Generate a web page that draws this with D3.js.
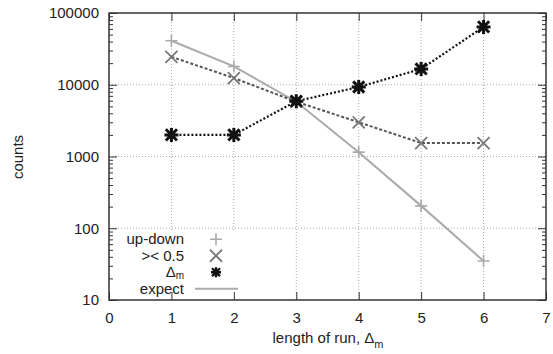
<!DOCTYPE html>
<html>
  <head>
    <meta charset="UTF-8" />
    <title>counts vs length of run</title>
    <script src="https://cdn.jsdelivr.net/npm/d3@7"></script>
    <style>
      body { margin: 0; background: #fff; }
      svg text { font-family: "Liberation Sans", Arial, sans-serif; fill: #222; }
    </style>
  </head>
  <body>
    <div class="chart"></div>
    <script>
      // data
      let runLength = [1, 2, 3, 4, 5, 6];
      let upDown = [41000, 18000, 5800, 1150, 205, 35];
      let halfCross = [24500, 12400, 5800, 3000, 1540, 1540];
      let deltaM = [2000, 2000, 5900, 9300, 16600, 64000];
      let expect = [41000, 18000, 5800, 1150, 205, 35];
      let xTicks = [0, 1, 2, 3, 4, 5, 6, 7];
      let yTicks = [10, 100, 1000, 10000, 100000];

      let width = 553;
      let height = 354;
      let margin = { top: 13, right: 7, bottom: 54, left: 109 };
      let w = width - margin.left - margin.right;
      let h = height - margin.top - margin.bottom;

      let svg = d3
        .select(".chart")
        .append("svg")
        .attr("width", width)
        .attr("height", height);

      let g = svg
        .append("g")
        .attr("transform", `translate(${margin.left},${margin.top})`);

      let x = d3.scaleLinear().domain([0, 7]).range([0, w]);
      let y = d3.scaleLog().domain([10, 100000]).range([h, 0]);

      // grid
      let gridColor = "#aaa";
      xTicks.slice(1, -1).forEach((t) => {
        g.append("line")
          .attr("x1", x(t)).attr("x2", x(t))
          .attr("y1", 0).attr("y2", h)
          .attr("stroke", gridColor)
          .attr("stroke-width", 1)
          .attr("stroke-dasharray", "1,2");
      });
      yTicks.slice(1, -1).forEach((t) => {
        g.append("line")
          .attr("x1", 0).attr("x2", w)
          .attr("y1", y(t)).attr("y2", y(t))
          .attr("stroke", gridColor)
          .attr("stroke-width", 1)
          .attr("stroke-dasharray", "1,2");
      });

      // legend backdrop hides grid
      g.append("rect")
        .attr("x", 2).attr("y", y(100) + 4)
        .attr("width", 134).attr("height", h - y(100) - 5)
        .attr("fill", "#fff");

      // axes with inward ticks
      let minor = [];
      for (let d = 10; d < 100000; d *= 10) {
        for (let k = 2; k <= 9; k++) minor.push(d * k);
      }

      let axisLeft = d3.axisLeft(y).tickValues(yTicks).tickFormat(d3.format("d")).tickSizeInner(-8).tickSizeOuter(0).tickPadding(10);
      let axisRight = d3.axisRight(y).tickValues(yTicks).tickFormat("").tickSizeInner(-8).tickSizeOuter(0);
      let axisBottom = d3.axisBottom(x).tickValues(xTicks).tickFormat(d3.format("d")).tickSizeInner(-8).tickSizeOuter(0).tickPadding(12);
      let axisTop = d3.axisTop(x).tickValues(xTicks).tickFormat("").tickSizeInner(-8).tickSizeOuter(0);

      let styleAxis = (sel) => {
        sel.select(".domain").remove();
        sel.selectAll(".tick line").attr("stroke", "#333").attr("stroke-width", 1);
        sel.selectAll(".tick text").attr("font-size", 15).attr("fill", "#222")
          .attr("font-family", '"Liberation Sans", Arial, sans-serif');
      };

      g.append("g").call(axisLeft).call(styleAxis);
      g.append("g").attr("transform", `translate(${w},0)`).call(axisRight).call(styleAxis);
      g.append("g").attr("transform", `translate(0,${h})`).call(axisBottom).call(styleAxis);
      g.append("g").call(axisTop).call(styleAxis);

      // minor log ticks
      g.append("g")
        .call(d3.axisLeft(y).tickValues(minor).tickFormat("").tickSizeInner(-4).tickSizeOuter(0))
        .call(styleAxis);
      g.append("g").attr("transform", `translate(${w},0)`)
        .call(d3.axisRight(y).tickValues(minor).tickFormat("").tickSizeInner(-4).tickSizeOuter(0))
        .call(styleAxis);

      // frame
      g.append("rect")
        .attr("width", w).attr("height", h)
        .attr("fill", "none")
        .attr("stroke", "#333")
        .attr("stroke-width", 1.5);

      // lines
      let line = d3.line().x((d, i) => x(runLength[i])).y((d) => y(d));

      g.append("path").datum(expect)
        .attr("fill", "none").attr("stroke", "#aaa").attr("stroke-width", 2)
        .attr("d", line);
      g.append("path").datum(halfCross)
        .attr("fill", "none").attr("stroke", "#555").attr("stroke-width", 2)
        .attr("stroke-dasharray", "3,2")
        .attr("d", line);
      g.append("path").datum(deltaM)
        .attr("fill", "none").attr("stroke", "#111").attr("stroke-width", 2.2)
        .attr("stroke-dasharray", "2,2")
        .attr("d", line);

      // markers
      let plus = (s) => `M${-s},0H${s}M0,${-s}V${s}`;
      let cross = (s) => `M${-s},${-s}L${s},${s}M${-s},${s}L${s},${-s}`;
      let star = (s) => plus(s) + cross(s * 0.8);

      let drawMarks = (vals, path, color, sw) => {
        g.append("g").selectAll("path")
          .data(vals)
          .enter()
          .append("path")
          .attr("transform", (d, i) => `translate(${x(runLength[i])},${y(d)})`)
          .attr("d", path)
          .attr("fill", "none")
          .attr("stroke", color)
          .attr("stroke-width", sw);
      };
      drawMarks(upDown, plus(6), "#aaa", 1.6);
      drawMarks(halfCross, cross(6), "#777", 1.8);
      drawMarks(deltaM, star(7), "#111", 3);

      // legend
      let legendItems = [
        { label: "up-down", kind: "plus" },
        { label: "><\u00a00.5", kind: "cross" },
        { label: "\u0394", sub: "m", kind: "star" },
        { label: "expect", kind: "line" },
      ];
      let lx = 75;
      let ly0 = y(100) + 11;
      legendItems.forEach((item, i) => {
        let ly = ly0 + i * 16.5;
        let t = g.append("text")
          .attr("x", lx)
          .attr("y", item.sub ? ly + 4.5 : ly + 5)
          .attr("text-anchor", "end")
          .attr("font-size", 15);
        t.append("tspan").text(item.label);
        if (item.sub) {
          t.append("tspan").attr("font-size", 10).attr("dy", 2).text(item.sub);
        }
        let sx = 107;
        if (item.kind === "plus") {
          g.append("path").attr("transform", `translate(${sx},${ly})`).attr("d", plus(6))
            .attr("stroke", "#aaa").attr("stroke-width", 1.6).attr("fill", "none");
        } else if (item.kind === "cross") {
          g.append("path").attr("transform", `translate(${sx},${ly})`).attr("d", cross(6))
            .attr("stroke", "#777").attr("stroke-width", 1.8).attr("fill", "none");
        } else if (item.kind === "star") {
          g.append("path").attr("transform", `translate(${sx},${ly})`).attr("d", star(5))
            .attr("stroke", "#111").attr("stroke-width", 2.4).attr("fill", "none");
        } else {
          g.append("line").attr("x1", 86).attr("x2", 129).attr("y1", ly).attr("y2", ly)
            .attr("stroke", "#aaa").attr("stroke-width", 2);
        }
      });

      // axis titles
      svg.append("text")
        .attr("transform", `translate(23,157) rotate(-90)`)
        .attr("text-anchor", "middle")
        .attr("font-size", 15)
        .text("counts");

      let xl = svg.append("text")
        .attr("x", 328).attr("y", 343)
        .attr("text-anchor", "middle")
        .attr("font-size", 15);
      xl.append("tspan").text("length of run, \u0394");
      xl.append("tspan").attr("font-size", 11).attr("dy", 5).text("m");
    </script>
  </body>
</html>
